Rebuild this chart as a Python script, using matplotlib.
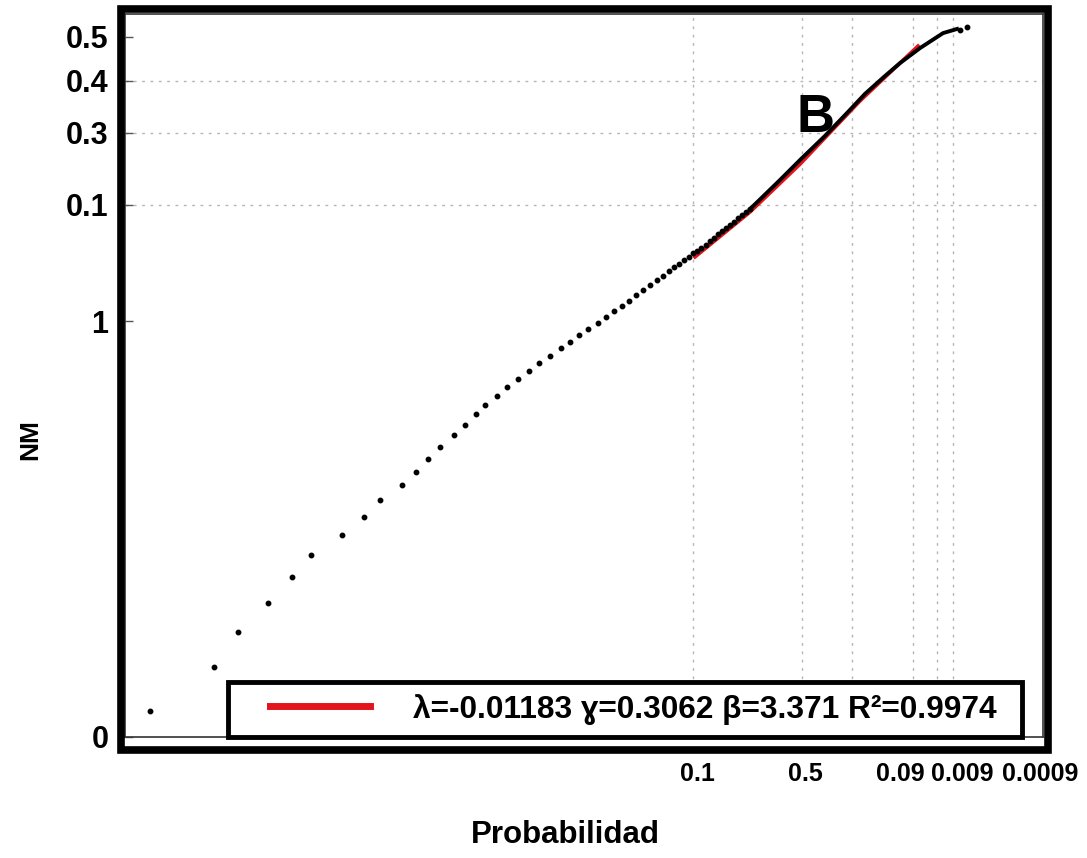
"""Gráfico de probabilidad NM"""
import matplotlib
matplotlib.use("Agg")
import matplotlib.pyplot as plt
from matplotlib.patches import Rectangle
from matplotlib.lines import Line2D

plt.rcParams["font.family"] = ["Liberation Sans", "DejaVu Sans"]
plt.rcParams["font.weight"] = "bold"

# puntos observados (escala del gráfico)
obs_x = [0.25, 0.89, 1.13, 1.43, 1.67, 1.86, 2.17, 2.39, 2.55, 2.77, 2.91, 3.03,
         3.15, 3.29, 3.40, 3.51, 3.60, 3.72, 3.82, 3.93, 4.04, 4.14, 4.25, 4.36,
         4.45, 4.54, 4.63, 4.73, 4.81, 4.89, 4.97, 5.04, 5.11, 5.18, 5.25, 5.32,
         5.38, 5.44, 5.49, 5.54, 5.59, 5.64, 5.68, 5.72, 5.76, 5.81, 5.85, 5.89,
         5.93, 5.97, 6.01, 6.05, 6.09, 6.13, 6.17, 6.21, 6.25, 8.35, 8.42]
obs_y = [0.062, 0.168, 0.252, 0.322, 0.385, 0.438, 0.486, 0.529, 0.570, 0.606,
         0.637, 0.668, 0.697, 0.726, 0.750, 0.776, 0.798, 0.820, 0.841, 0.861,
         0.880, 0.899, 0.916, 0.935, 0.950, 0.966, 0.981, 0.995, 1.010, 1.024,
         1.036, 1.048, 1.063, 1.075, 1.087, 1.099, 1.108, 1.120, 1.130, 1.137,
         1.147, 1.154, 1.163, 1.168, 1.175, 1.183, 1.192, 1.200, 1.209, 1.216,
         1.224, 1.231, 1.238, 1.248, 1.255, 1.262, 1.269, 1.700, 1.707]

# tramo denso de la cola (se ve como línea continua)
tail_x = [6.25, 6.55, 6.75, 7.00, 7.22, 7.40, 7.60, 7.75, 7.95, 8.18, 8.32]
tail_y = [1.269, 1.339, 1.387, 1.445, 1.500, 1.546, 1.589, 1.620, 1.656, 1.692, 1.702]

# ajuste
fit_x = [5.70, 6.25, 6.75, 7.35, 7.93]
fit_y = [1.154, 1.262, 1.377, 1.529, 1.661]

# ejes
x_grid = [5.68, 6.77, 7.27, 7.88, 8.12, 8.28]
x_label_pos = [5.72, 6.80, 7.27, 7.75, 8.37, 9.15]
x_labels = ["0.1", "0.5", "0.9", "0.09", "0.009", "0.0009"]
y_ticks = [0.0, 1.0, 1.279, 1.452, 1.577, 1.683]
y_labels = ["0", "1", "0.1", "0.3", "0.4", "0.5"]
y_grid = [1.279, 1.452, 1.577]

fit_label = "λ=-0.01183 ɣ=0.3062 β=3.371 R²=0.9974"
red = "#e3141b"

fig = plt.figure(figsize=(10.87, 8.58), dpi=100)
ax = fig.add_axes([125 / 1087, 1 - 737 / 858, 918 / 1087, 723 / 858])

for xg in x_grid:
    ax.axvline(xg, color="#b5b5b5", linestyle=(0, (2, 4)), linewidth=1.0, zorder=0)
for yg in y_grid:
    ax.axhline(yg, color="#b5b5b5", linestyle=(0, (2, 4)), linewidth=1.0, zorder=0)

ax.plot(fit_x, fit_y, color=red, linewidth=2.6, zorder=2)
ax.plot(tail_x, tail_y, color="black", linewidth=2.8, zorder=3)
ax.plot(obs_x, obs_y, "o", color="black", markersize=3.2, zorder=3)

ax.set_xlim(0, 9.18)
ax.set_ylim(0, 1.738)

ax.set_xticks(x_grid)
ax.set_xticklabels([])
ax.set_xticks(x_label_pos, x_labels, minor=True)
ax.tick_params(axis="x", which="major", direction="in", length=6, width=1, color="#555555")
ax.tick_params(axis="x", which="minor", length=0, pad=18, labelsize=18)

ax.set_yticks(y_ticks, y_labels)
ax.tick_params(axis="y", which="major", direction="in", length=6, width=1, color="#555555",
               pad=12, labelsize=22)

for s in ax.spines.values():
    s.set_linewidth(1.2)
    s.set_color("#333333")

ax.set_xlabel("Probabilidad", fontsize=22.5, fontweight="bold")
ax.xaxis.set_label_coords((565 - 125) / 918, (737 - 820) / 723)
ax.set_ylabel("NM", fontsize=19, fontweight="bold")
ax.yaxis.set_label_coords((42 - 125) / 918, (737 - 440) / 723)

ax.text(6.90, 1.488, "B", fontsize=38, fontweight="bold", ha="center", va="center")

# leyenda dibujada a mano (caja, muestra y texto)
ax.add_patch(Rectangle(((228 - 125) / 918, 0.0), (1022 - 228) / 918, 55 / 723,
                       transform=ax.transAxes, facecolor="white", edgecolor="black",
                       linewidth=3.5, zorder=5, clip_on=False))
ax.add_line(Line2D([(270 - 125) / 918, (370 - 125) / 918], [31 / 723, 31 / 723],
                   transform=ax.transAxes, color=red, linewidth=5, zorder=6))
ax.text((413 - 125) / 918, 27 / 723, fit_label, transform=ax.transAxes, fontsize=22.8,
        fontweight="bold", ha="left", va="center", zorder=6)

# marco grueso exterior
fig.patches.append(Rectangle((121 / 1087, 1 - 750 / 858), 927 / 1087, 741 / 858,
                             transform=fig.transFigure, fill=False, edgecolor="black",
                             linewidth=5.5, zorder=10))

plt.savefig("out.png", dpi=100)
plt.close()
